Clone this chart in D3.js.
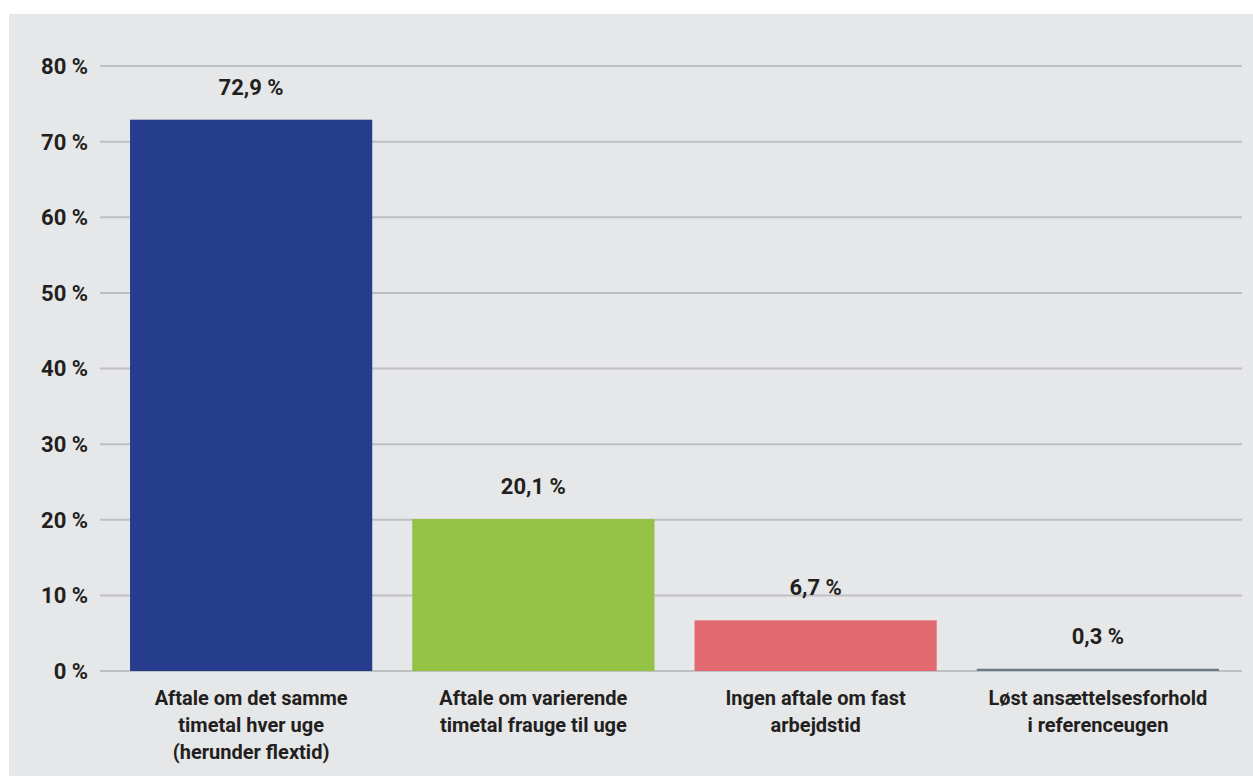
<!DOCTYPE html>
<html><head><meta charset="utf-8">
<script src="https://cdn.jsdelivr.net/npm/d3@7"></script>
<style>
html,body{margin:0;padding:0;background:#fff;}
svg{display:block;}
text{font-family:Roboto,"Noto Sans",sans-serif;font-weight:700;fill:#231f20;}
</style></head><body>
<svg id="c" width="1253" height="776"></svg>
<script>
const categories = [
  ["Aftale om det samme","timetal hver uge","(herunder flextid)"],
  ["Aftale om varierende","timetal frauge til uge"],
  ["Ingen aftale om fast","arbejdstid"],
  ["Løst ansættelsesforhold","i referenceugen"]
];
const values = [72.9, 20.1, 6.7, 0.3];
const valueLabels = ["72,9 %", "20,1 %", "6,7 %", "0,3 %"];
const colors = ["#253d8c", "#93c245", "#e36971", "#6b7b8a"];
const yTicks = [0,10,20,30,40,50,60,70,80];
const yTickLabels = ["0 %","10 %","20 %","30 %","40 %","50 %","60 %","70 %","80 %"];

const svg = d3.select("#c");
svg.append("rect").attr("x",9).attr("y",14).attr("width",1253-9).attr("height",776-14).attr("fill","#e6e7e9");

const y = d3.scaleLinear().domain([0,80]).range([671,66]);
const x = d3.scaleBand().domain(d3.range(categories.length)).range([110,1239]).paddingInner(40/282).paddingOuter(20/282);

const gy = svg.append("g");
yTicks.forEach((t,i)=>{
  gy.append("line").attr("x1",100).attr("x2",1242).attr("y1",y(t)).attr("y2",y(t)).attr("stroke","#bfc0c2").attr("stroke-width",2);
  gy.append("text").attr("x",88).attr("y",y(t)).attr("dy","0.36em").attr("text-anchor","end").attr("font-size",22).text(yTickLabels[i]);
});

svg.selectAll("rect.bar").data(values).join("rect").attr("class","bar")
  .attr("x",(d,i)=>x(i)).attr("width",x.bandwidth())
  .attr("y",d=>y(d)).attr("height",d=>y(0)-y(d))
  .attr("fill",(d,i)=>colors[i]);

svg.selectAll("text.val").data(values).join("text").attr("class","val")
  .attr("x",(d,i)=>x(i)+x.bandwidth()/2).attr("y",d=>y(d)-33).attr("dy","0.36em")
  .attr("text-anchor","middle").attr("font-size",22).text((d,i)=>valueLabels[i]);

categories.forEach((lines,i)=>{
  lines.forEach((l,j)=>{
    svg.append("text").attr("x",x(i)+x.bandwidth()/2).attr("y",698+j*27).attr("dy","0.36em")
      .attr("text-anchor","middle").attr("font-size",20).text(l);
  });
});
</script>
</body></html>
